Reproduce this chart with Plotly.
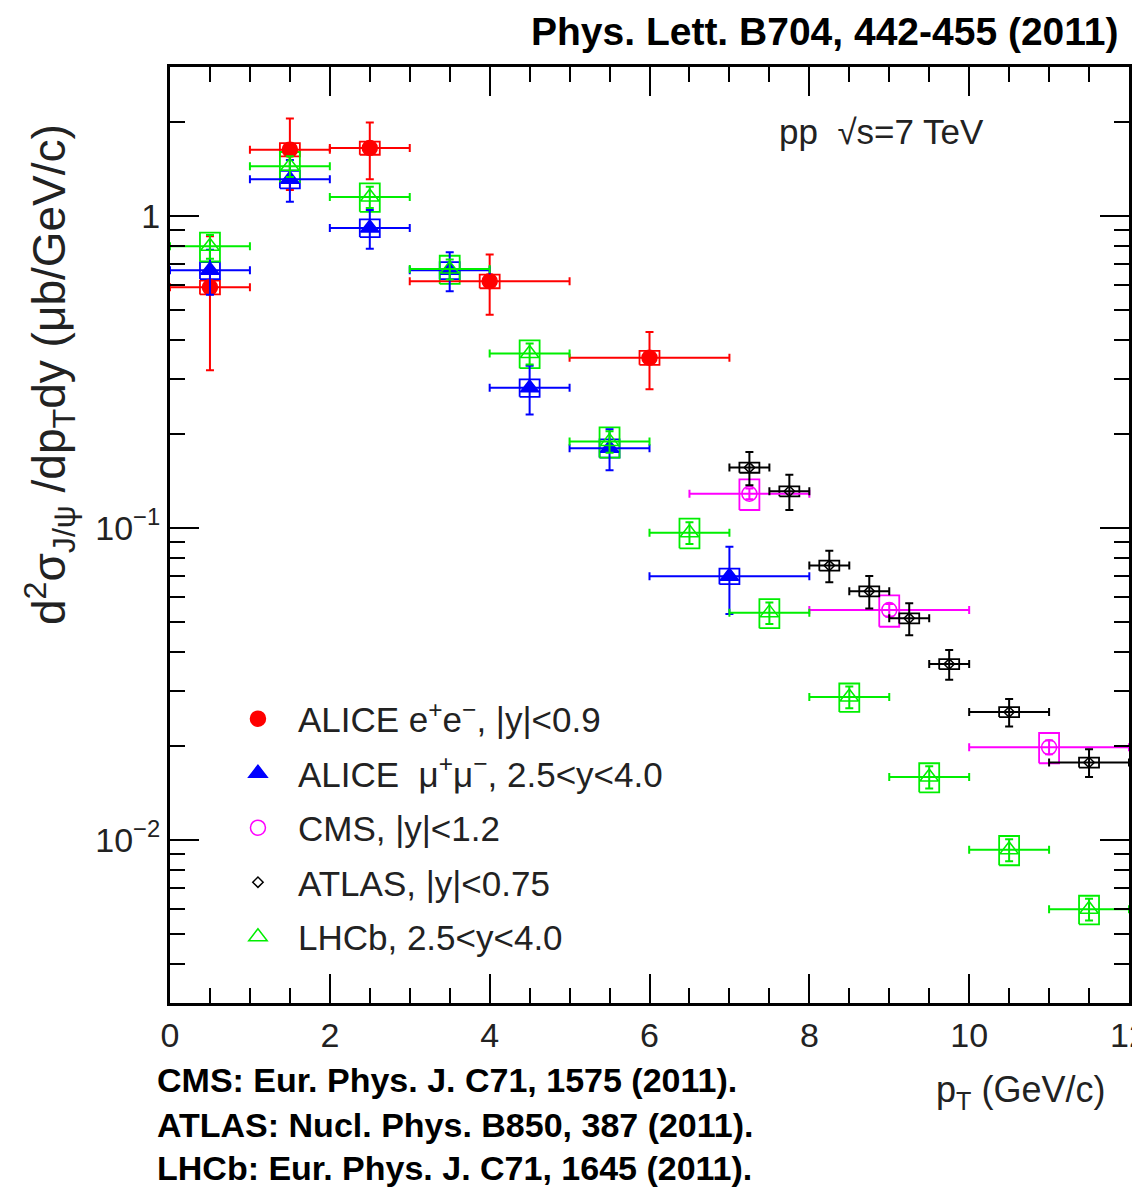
import plotly.graph_objects as go

# ---------------- data ----------------
alice_ee_x = [0.5, 1.5, 2.5, 4.0, 6.0]
alice_ee_xerr = [0.5, 0.5, 0.5, 1.0, 1.0]
alice_ee_y = [0.59, 1.63, 1.65, 0.617, 0.351]
alice_ee_stat = [0.27, 0.42, 0.34, 0.135, 0.073]
alice_ee_syst = [0.03, 0.08, 0.08, 0.031, 0.018]

alice_mm_x = [0.5, 1.5, 2.5, 3.5, 4.5, 5.5, 7.0]
alice_mm_xerr = [0.5, 0.5, 0.5, 0.5, 0.5, 0.5, 1.0]
alice_mm_y = [0.669, 1.31, 0.915, 0.669, 0.281, 0.180, 0.0700]
alice_mm_stat = [0.11, 0.20, 0.13, 0.096, 0.05, 0.027, 0.017]
alice_mm_syst = [0.042, 0.085, 0.06, 0.042, 0.018, 0.012, 0.004]

cms_x = [7.25, 9.0, 11.0]
cms_xerr = [0.75, 1.0, 1.0]
cms_y = [0.1286, 0.0545, 0.0198]
cms_stat = [0.005, 0.0025, 0.001]
cms_syst = [0.0145, 0.0063, 0.0022]

atlas_x = [7.25, 7.75, 8.25, 8.75, 9.25, 9.75, 10.5, 11.5]
atlas_xerr = [0.25, 0.25, 0.25, 0.25, 0.25, 0.25, 0.5, 0.5]
atlas_y = [0.156, 0.131, 0.0757, 0.0626, 0.0513, 0.0366, 0.0257, 0.0177]
atlas_stat = [0.019, 0.017, 0.0088, 0.0075, 0.006, 0.004, 0.0026, 0.0018]
atlas_syst = [0.0058, 0.0048, 0.0028, 0.0023, 0.0019, 0.00135, 0.00095, 0.00065]

lhcb_x = [0.5, 1.5, 2.5, 3.5, 4.5, 5.5, 6.5, 7.5, 8.5, 9.5, 10.5, 11.5]
lhcb_xerr = [0.5] * 12
lhcb_y = [0.799, 1.442, 1.15, 0.675, 0.362, 0.189, 0.0965, 0.0534, 0.0287, 0.0159, 0.00929, 0.00599]
lhcb_stat = [0.07, 0.11, 0.09, 0.05, 0.028, 0.015, 0.0078, 0.0042, 0.0023, 0.0013, 0.00075, 0.00048]
lhcb_syst = [0.085, 0.16, 0.12, 0.07, 0.037, 0.021, 0.0105, 0.0057, 0.0030, 0.0017, 0.0010, 0.00063]

x_tick_vals = [0, 2, 4, 6, 8, 10, 12]
y_tick_vals = [0.01, 0.1, 1]
y_tick_text = ["10<sup>\u22122</sup>", "10<sup>\u22121</sup>", "1"]

FONT = "Liberation Sans, Arial, Helvetica, sans-serif"
BOX_HW = 0.125

fig = go.Figure()


def add_boxes(xs, ys, syst, color):
    bx, by = [], []
    for x, y, s in zip(xs, ys, syst):
        bx += [x - BOX_HW, x + BOX_HW, x + BOX_HW, x - BOX_HW, x - BOX_HW, None]
        by += [y - s, y - s, y + s, y + s, y - s, None]
    fig.add_trace(go.Scatter(x=bx, y=by, mode="lines", line=dict(color=color, width=1.8),
                             showlegend=False, hoverinfo="skip"))


def add_points(name, xs, xerr, ys, stat, color, symbol, size, group):
    fig.add_trace(go.Scatter(
        x=xs, y=ys, mode="markers", name=name, legendgroup=group,
        marker=dict(color=color, symbol=symbol, size=size, line=dict(color=color, width=1.5)),
        error_x=dict(type="data", array=xerr, color=color, thickness=2, width=4),
        error_y=dict(type="data", array=stat, color=color, thickness=2, width=4),
    ))


series = [
    ("ALICE e<sup>+</sup>e<sup>\u2212</sup>, |y|<0.9", alice_ee_x, alice_ee_xerr, alice_ee_y,
     alice_ee_stat, alice_ee_syst, "#ff0000", "circle", 15),
    ("ALICE  \u03bc<sup>+</sup>\u03bc<sup>\u2212</sup>, 2.5<y<4.0", alice_mm_x, alice_mm_xerr, alice_mm_y,
     alice_mm_stat, alice_mm_syst, "#0000ff", "triangle-up", 16),
    ("CMS, |y|<1.2", cms_x, cms_xerr, cms_y, cms_stat, cms_syst, "#ff00ff", "circle-open", 15),
    ("ATLAS, |y|<0.75", atlas_x, atlas_xerr, atlas_y, atlas_stat, atlas_syst, "#000000", "diamond-open", 8),
    ("LHCb, 2.5<y<4.0", lhcb_x, lhcb_xerr, lhcb_y, lhcb_stat, lhcb_syst, "#00ee00", "triangle-up-open", 16),
]

for name, xs, xe, ys, st, sy, col, sym, sz in series:
    add_boxes(xs, ys, sy, col)
for i, (name, xs, xe, ys, st, sy, col, sym, sz) in enumerate(series):
    add_points(name, xs, xe, ys, st, col, sym, sz, "g%d" % i)

x_minor = [v / 2 for v in range(0, 25) if v % 4 != 0]
y_minor = [m * 10 ** e for e in (-3, -2, -1, 0) for m in range(2, 10) if 0.003 <= m * 10 ** e <= 3]

fig.update_layout(
    width=1132, height=1196,
    margin=dict(l=170, r=3, t=67, b=193, autoexpand=False),
    paper_bgcolor="white", plot_bgcolor="white",
    font=dict(family=FONT, size=30, color="black"),
    showlegend=True,
    legend=dict(x=0.050, y=0.335, xanchor="left", yanchor="top", bgcolor="rgba(0,0,0,0)",
                font=dict(size=35, family=FONT, color="#222"), traceorder="grouped", tracegroupgap=6,
                itemwidth=70),
    xaxis=dict(range=[0, 12], tickvals=x_tick_vals, ticks="inside", ticklen=29, tickwidth=2,
               tickcolor="black", showline=True, linewidth=3, linecolor="black", mirror="ticks",
               showgrid=False, zeroline=False, automargin=False, ticklabeloverflow="allow",
               tickfont=dict(size=34, family=FONT, color="#222"),
               minor=dict(tickvals=x_minor, ticks="inside", ticklen=15, tickwidth=2, tickcolor="black",
                          showgrid=False)),
    yaxis=dict(type="log", range=[-2.5229, 0.4771], tickvals=y_tick_vals, ticktext=y_tick_text,
               ticks="inside", ticklen=29, tickwidth=2, tickcolor="black", showline=True, linewidth=3,
               linecolor="black", mirror="ticks", showgrid=False, zeroline=False, automargin=False,
               tickfont=dict(size=34, family=FONT, color="#222"),
               minor=dict(tickvals=y_minor, ticks="inside", ticklen=15, tickwidth=2, tickcolor="black",
                          showgrid=False)),
)

annotations = [
    dict(text="<b>Phys. Lett. B704, 442-455 (2011)</b>", x=0.9917, y=1.0374, xanchor="right",
         yanchor="middle", font=dict(size=39)),
    dict(text="pp  \u221as=7 TeV", x=0.633, y=0.9306, xanchor="left", yanchor="middle",
         font=dict(size=35, color="#222")),
    dict(text="p<sub>T</sub> (GeV/c)", x=0.797, y=-0.095, xanchor="left", yanchor="middle",
         font=dict(size=36, color="#222")),
    dict(text="d<sup>2</sup>\u03c3<sub>J/\u03c8</sub> /dp<sub>T</sub>dy (\u03bcb/GeV/c)", x=-0.125,
         y=0.671, xanchor="center", yanchor="middle", textangle=-90, font=dict(size=46, color="#222")),
    dict(text="<b>CMS: Eur. Phys. J. C71, 1575 (2011).</b>", x=-0.0156, y=-0.0823, xanchor="left",
         yanchor="middle", font=dict(size=34)),
    dict(text="<b>ATLAS: Nucl. Phys. B850, 387 (2011).</b>", x=-0.0156, y=-0.1303, xanchor="left",
         yanchor="middle", font=dict(size=34)),
    dict(text="<b>LHCb: Eur. Phys. J. C71, 1645 (2011).</b>", x=-0.0156, y=-0.1763, xanchor="left",
         yanchor="middle", font=dict(size=34)),
]
for a in annotations:
    a.update(xref="paper", yref="paper", showarrow=False)
    fig.add_annotation(**a)

fig.write_html(
    "out.html",
    config={"displayModeBar": False},
    post_script="document.body.style.margin='0px';document.body.style.overflow='hidden';",
)
